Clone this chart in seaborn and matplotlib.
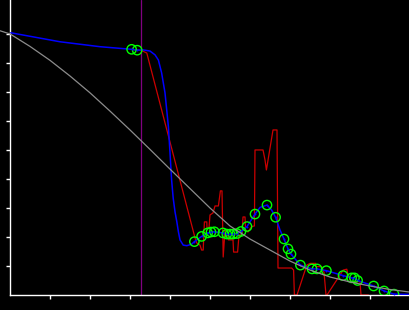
import matplotlib
matplotlib.use("Agg")
import matplotlib.pyplot as plt
import seaborn as sns

# ---- data (arbitrary units) ----
gray_x = [-2.5, 0, 5, 10, 15, 20, 25, 30, 35, 40, 45, 50, 55, 60, 65, 70, 75, 80, 85, 90, 95, 100]
gray_y = [91.1, 90.0, 85.7, 80.9, 75.5, 69.7, 63.4, 56.9, 50.2, 43.4, 36.7, 30.0, 23.8, 19.3,
          15.5, 11.7, 8.6, 6.2, 4.5, 3.1, 1.9, 1.0]

blue_x = [0.2, 12.5, 22.5, 30.4, 31.8, 33.3, 35, 36.25, 37.1, 37.9, 38.75, 39.6, 40, 40.4,
          40.8, 41.25, 41.7, 42.1, 42.5, 43.3, 44.2, 45.4, 46.1, 47.9, 49.4, 50.25, 51.1,
          53.25, 54.2, 55, 55.75, 56.75, 57.75, 59.25, 61.25, 62.5, 64.25, 65.4, 66.4, 67.5,
          68.5, 69.5, 70.25, 72.6, 75.5, 76.75, 79.1, 83.25, 85.4, 86.1, 86.9, 90.9, 93.5,
          96, 100]
blue_y = [90.4, 87.3, 85.6, 84.7, 84.4, 84.5, 84.1, 82.8, 81.0, 76.6, 69.7, 58.0, 49.0, 39.7,
          33.4, 28.7, 25.3, 21.8, 19.0, 17.2, 17.0, 17.5, 18.4, 20.2, 21.4, 21.7, 21.8,
          21.4, 21.0, 21.0, 21.0, 21.2, 21.9, 23.6, 27.9, 30.2, 31.0, 29.3, 26.8, 22.4,
          19.3, 15.9, 14.1, 10.3, 9.0, 9.0, 8.4, 6.7, 5.9, 5.9, 5.0, 3.1, 1.4,
          0.3, 0.2]

circle_x = [30.4, 31.8, 46.1, 47.9, 49.4, 50.25, 51.1, 53.25, 54.2, 55, 55.75, 56.75, 57.75,
            59.25, 61.25, 64.25, 66.4, 68.5, 69.5, 70.25, 72.6, 75.5, 76.75, 79.1, 83.25,
            85.4, 86.1, 86.9, 90.9, 93.5, 96]
circle_y = [84.7, 84.4, 18.4, 20.2, 21.4, 21.7, 21.8, 21.4, 21.0, 21.0, 21.0, 21.2, 21.9,
            23.6, 27.9, 31.0, 26.8, 19.3, 15.9, 14.1, 10.3, 9.0, 9.0, 8.4, 6.7,
            5.9, 5.9, 5.0, 3.1, 1.4, 0.3]

red_x = [30.4, 32.9, 34.2, 46.25, 46.7, 47.5, 47.9, 48.3, 48.6, 49.2, 49.25, 49.75, 50, 50.75,
         51.25, 52.1, 52.6, 53, 53.3, 53.75, 54.25, 54.6, 55.75, 55.9, 56.9, 57.25, 58, 58.25,
         58.75, 58.9, 59.5, 60.4, 61.1, 61.25, 63.25, 63.75, 64.1, 65.75, 66.75, 67, 70.4,
         70.9, 71.1, 71.75, 74.2, 75, 76.4, 76.5, 77.9, 78.5, 79, 79.25, 83.3, 84.2, 84.5,
         85.25, 87.5, 87.75, 89.6]
red_y = [84.7, 84.3, 83.4, 19.7, 17.9, 17.2, 15.5, 15.5, 25.2, 25.2, 23.1, 23.1, 27.6, 28.3,
         30.7, 30.7, 35.9, 35.9, 13.1, 22.4, 22.4, 19.0, 19.0, 14.8, 14.8, 20.7, 20.7, 26.9,
         26.9, 22.4, 21.7, 23.6, 23.8, 50.0, 50.0, 46.6, 43.1, 56.9, 56.9, 9.3, 9.3,
         8.6, 0.0, 0.0, 10.3, 10.9, 10.9, 9.8, 9.8, 7.9, 0.0, 0.0, 8.6, 8.9, 6.9,
         4.6, 4.6, 0.0, 0.0]

vline_x = 32.8
x_ticks = [10, 20, 30, 40, 50, 60, 70, 80, 90]
y_ticks = [10, 20, 30, 40, 50, 60, 70, 80, 90]

# ---- style ----
sns.set_theme(style="ticks", rc={
    "figure.facecolor": "black",
    "axes.facecolor": "black",
    "axes.edgecolor": "white",
    "xtick.color": "white",
    "ytick.color": "white",
})

fig = plt.figure(figsize=(4.1, 3.1), dpi=100)
ax = fig.add_axes([0, 15 / 310, 1, 295 / 310])

lw = 0.9
ax.axvline(vline_x, color="#800080", lw=lw, zorder=1)

sns.lineplot(x=red_x, y=red_y, sort=False, estimator=None, color="#cc0000", lw=lw, ax=ax, zorder=2)
sns.lineplot(x=blue_x, y=blue_y, sort=False, estimator=None, color="#0000ff", lw=1.1, ax=ax, zorder=3)
sns.scatterplot(x=circle_x, y=circle_y, marker="o", s=45, facecolors="none",
                edgecolor="#00ff00", linewidth=1.0, ax=ax, zorder=4)
sns.scatterplot(x=circle_x, y=circle_y, marker="o", s=2, color="#0000ff",
                linewidth=0, ax=ax, zorder=5)
sns.lineplot(x=gray_x, y=gray_y, sort=False, estimator=None, color="#8c8c8c", lw=lw, ax=ax, zorder=6)

ax.set_xlim(-2.5, 100)
ax.set_ylim(0, 101.7)
ax.spines["top"].set_visible(False)
ax.spines["right"].set_visible(False)
ax.spines["left"].set_position(("data", 0))
ax.spines["bottom"].set_bounds(0, 100)
for s in ("left", "bottom"):
    ax.spines[s].set_linewidth(1.0)
    ax.spines[s].set_color("white")
ax.set_xticks(x_ticks)
ax.set_yticks(y_ticks)
ax.tick_params(direction="out", length=3, width=1.0, colors="white",
               labelbottom=False, labelleft=False)
ax.set_xlabel("")
ax.set_ylabel("")
ax.grid(False)

fig.savefig("out.png", dpi=100, facecolor="black")
